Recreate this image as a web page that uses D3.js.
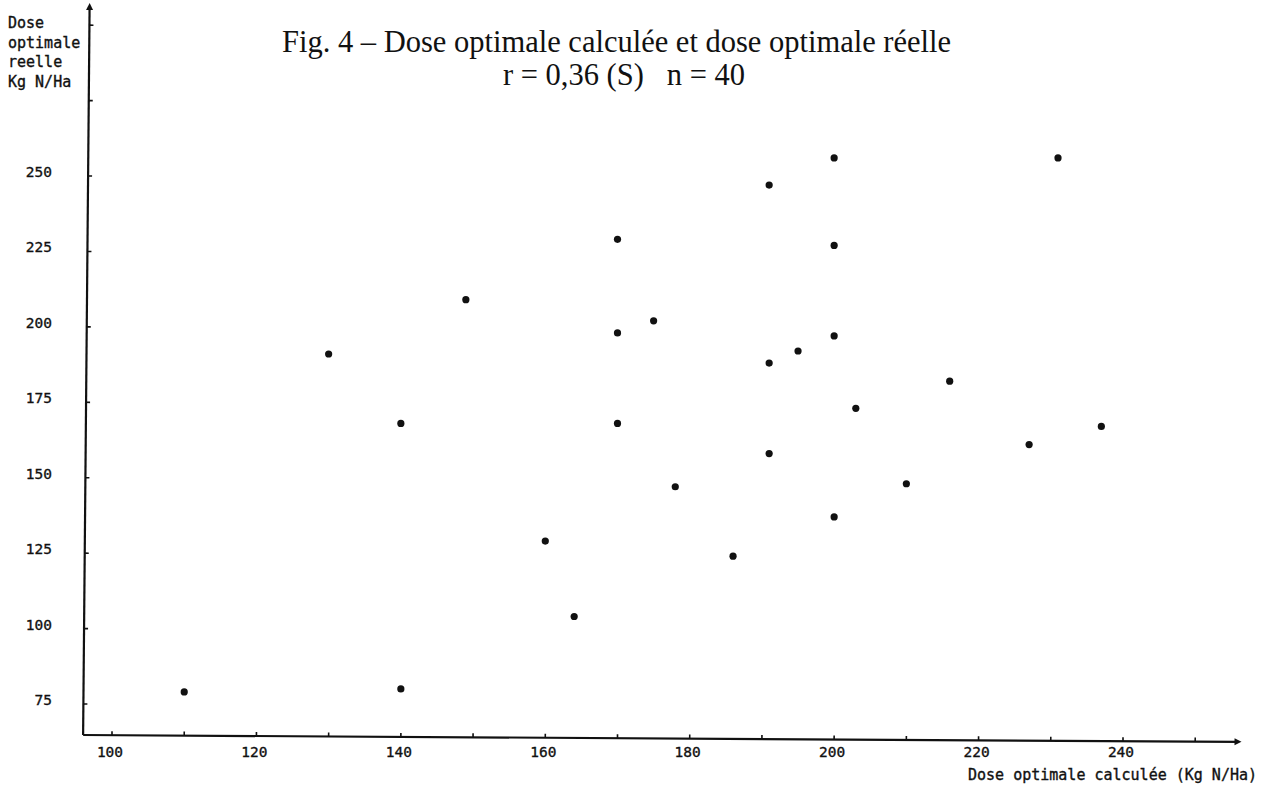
<!DOCTYPE html>
<html>
<head>
<meta charset="utf-8">
<script src="https://cdn.jsdelivr.net/npm/d3@7"></script>
<style>
  html, body { margin: 0; padding: 0; background: #fff; }
  svg { display: block; }
  .mono { font-family: "DejaVu Sans Mono", "Liberation Mono", monospace; fill: #111; stroke: #111; stroke-width: 0.35px; }
  .title { font-family: "Liberation Serif", "Times New Roman", serif; fill: #111; white-space: pre; }
</style>
</head>
<body>
<svg id="chart" width="1276" height="794"></svg>
<script>
// Dose optimale calculée (x) vs dose optimale réelle (y), Kg N/Ha
const doseCalculee = [110, 130, 140, 140, 149, 160, 164, 170, 170, 170, 175, 178, 186, 191, 191, 191, 195, 200, 200, 200, 200, 203, 210, 216, 227, 231, 237];
const doseReelle   = [ 79, 191, 168,  80, 209, 129, 104, 229, 198, 168, 202, 147, 124, 247, 188, 158, 192, 256, 227, 197, 137, 173, 148, 182, 161, 256, 167];

const xTickValues = [100, 110, 120, 130, 140, 150, 160, 170, 180, 190, 200, 210, 220, 230, 240, 250];
const xTickLabels = [100, 120, 140, 160, 180, 200, 220, 240];
const yTickValues = [75, 100, 125, 150, 175, 200, 225, 250, 275, 300];
const yTickLabels = [75, 100, 125, 150, 175, 200, 225, 250];

const titleLine1 = "Fig. 4 \u2013 Dose optimale calculée et dose optimale réelle";
const titleLine2 = "r = 0,36 (S)   n = 40";
const yTitleLines = ["Dose", "optimale", "reelle", "Kg N/Ha"];
const xTitle = "Dose optimale calculée (Kg N/Ha)";

const svg = d3.select("#chart");

const x = d3.scaleLinear().domain([100, 240]).range([112, 1123]);
const y = d3.scaleLinear().domain([75, 250]).range([704, 176]);

const originX = x(96), originY = 735;
const xEnd = x(256), yTop = y(306);

// X axis: baseline with arrow, ticks pointing up
const gx = svg.append("g").attr("transform", `rotate(0.34 ${originX} ${originY})`);
gx.append("line")
  .attr("x1", originX).attr("y1", originY).attr("x2", xEnd).attr("y2", originY)
  .attr("stroke", "#111").attr("stroke-width", 2.2);
gx.selectAll("line.tick").data(xTickValues).join("line")
  .attr("class", "tick")
  .attr("x1", d => x(d)).attr("x2", d => x(d))
  .attr("y1", originY).attr("y2", originY - 4)
  .attr("stroke", "#111").attr("stroke-width", 1.6);
gx.append("path")
  .attr("d", `M${xEnd + 3},${originY} L${xEnd - 4},${originY - 3.5} L${xEnd - 4},${originY + 3.5} Z`)
  .attr("fill", "#111");

// Y axis: vertical line with arrow, ticks pointing right
const gy = svg.append("g").attr("transform", `rotate(0.51 ${originX} ${originY})`);
gy.append("line")
  .attr("x1", originX).attr("y1", originY).attr("x2", originX).attr("y2", yTop)
  .attr("stroke", "#111").attr("stroke-width", 2.2);
gy.selectAll("line.tick").data(yTickValues).join("line")
  .attr("class", "tick")
  .attr("x1", originX).attr("x2", originX + 4)
  .attr("y1", d => y(d)).attr("y2", d => y(d))
  .attr("stroke", "#111").attr("stroke-width", 1.6);
gy.append("path")
  .attr("d", `M${originX},${yTop - 4} L${originX - 3.5},${yTop + 3} L${originX + 3.5},${yTop + 3} Z`)
  .attr("fill", "#111");

// Tick labels
svg.selectAll("text.xl").data(xTickLabels).join("text")
  .attr("class", "xl mono")
  .attr("x", d => x(d) - 2).attr("y", 757)
  .attr("text-anchor", "middle")
  .attr("font-size", 14.5)
  .text(d => d);

svg.selectAll("text.yl").data(yTickLabels).join("text")
  .attr("class", "yl mono")
  .attr("x", 52).attr("y", d => y(d) + 1)
  .attr("text-anchor", "end")
  .attr("font-size", 14.5)
  .text(d => d);

// Axis titles
svg.append("text").attr("class", "mono")
  .attr("font-size", 15)
  .selectAll("tspan").data(yTitleLines).join("tspan")
  .attr("x", 8).attr("y", (d, i) => 28 + i * 19.5)
  .text(d => d);

svg.append("text").attr("class", "mono")
  .attr("x", 1257).attr("y", 780)
  .attr("text-anchor", "end")
  .attr("font-size", 15)
  .text(xTitle);

// Title
svg.append("text").attr("class", "title")
  .attr("x", 282).attr("y", 52)
  .attr("font-size", 30.5)
  .text(titleLine1);
svg.append("text").attr("class", "title")
  .attr("x", 624).attr("y", 85)
  .attr("text-anchor", "middle")
  .attr("font-size", 30.5)
  .text(titleLine2);

// Data points
const pts = doseCalculee.map((d, i) => ({ xv: d, yv: doseReelle[i] }));
svg.append("g").selectAll("circle").data(pts).join("circle")
  .attr("cx", d => x(d.xv))
  .attr("cy", d => y(d.yv))
  .attr("r", 3.6)
  .attr("fill", "#111");
</script>
</body>
</html>
